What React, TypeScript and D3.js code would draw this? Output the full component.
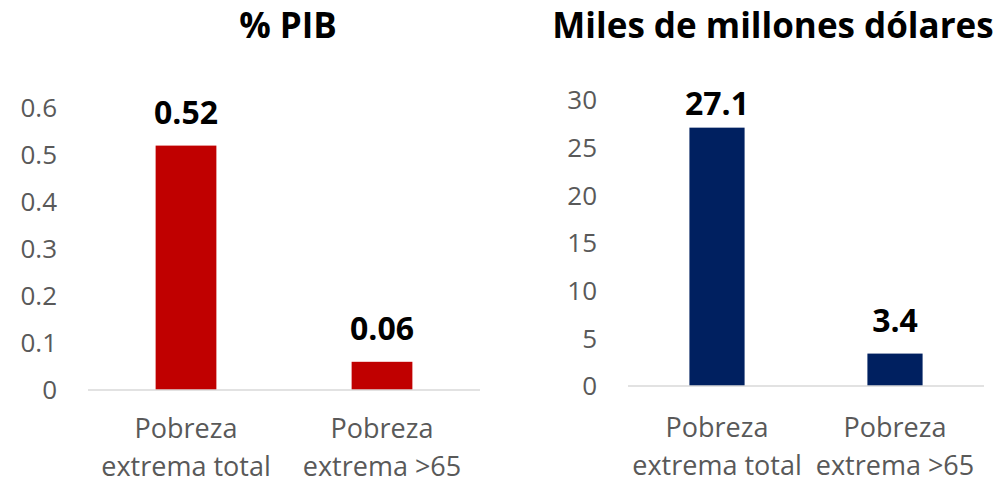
import React from "react";
import * as d3 from "d3";

// chart data
const categories = [
  ["Pobreza", "extrema total"],
  ["Pobreza", "extrema >65"],
];
const pibValues = [0.52, 0.06];
const pibLabels = ["0.52", "0.06"];
const pibTicks = [0, 0.1, 0.2, 0.3, 0.4, 0.5, 0.6];
const pibTickLabels = ["0", "0.1", "0.2", "0.3", "0.4", "0.5", "0.6"];

const usdValues = [27.1, 3.4];
const usdLabels = ["27.1", "3.4"];
const usdTicks = [0, 5, 10, 15, 20, 25, 30];
const usdTickLabels = ["0", "5", "10", "15", "20", "25", "30"];

const FONT = "'Open Sans', Lato, sans-serif";
const GRAY = "#595959";

type PanelProps = {
  title: string;
  values: number[];
  labels: string[];
  ticks: number[];
  tickLabels: string[];
  color: string;
  x0: number;
  x1: number;
  yBase: number;
  yTop: number;
  tickX: number;
  titleX: number;
  catY: number;
  labelMinY: number;
};

function Panel(p: PanelProps) {
  const xScale = d3
    .scaleBand<number>()
    .domain(categories.map((_, i) => i))
    .range([p.x0, p.x1])
    .padding(0);
  const yScale = d3
    .scaleLinear()
    .domain([0, d3.max(p.ticks) as number])
    .range([p.yBase, p.yTop]);
  const barW = xScale.bandwidth() * 0.31;

  return (
    <g>
      <text
        x={p.titleX}
        y={38}
        textAnchor="middle"
        fontFamily={FONT}
        fontWeight="bold"
        fontSize={35}
        fill="#000"
      >
        {p.title}
      </text>

      {p.ticks.map((t, i) => (
        <text
          key={t}
          x={p.tickX}
          y={yScale(t)}
          dy={9.3}
          textAnchor="end"
          fontFamily={FONT}
          fontSize={26}
          fill={GRAY}
        >
          {p.tickLabels[i]}
        </text>
      ))}

      {p.values.map((v, i) => {
        const cx = (xScale(i) as number) + xScale.bandwidth() / 2;
        const top = yScale(v);
        return (
          <g key={i}>
            <rect
              x={cx - barW / 2}
              y={top}
              width={barW}
              height={p.yBase - top}
              fill={p.color}
            />
            <text
              x={cx}
              y={Math.max(top - 22, p.labelMinY)}
              textAnchor="middle"
              fontFamily={FONT}
              fontWeight="bold"
              fontSize={32}
              fill="#000"
            >
              {p.labels[i]}
            </text>
            {categories[i].map((line, j) => (
              <text
                key={j}
                x={cx}
                y={p.catY + j * 38}
                textAnchor="middle"
                fontFamily={FONT}
                fontSize={27}
                fill={GRAY}
              >
                {line}
              </text>
            ))}
          </g>
        );
      })}

      <line
        x1={p.x0}
        x2={p.x1}
        y1={p.yBase}
        y2={p.yBase}
        stroke="#D9D9D9"
        strokeWidth={1.5}
      />
    </g>
  );
}

export default function App() {
  return (
    <svg
      width={1001}
      height={484}
      style={{ position: "absolute", left: 0, top: 0, background: "#fff" }}
    >
      <rect width={1001} height={484} fill="#fff" />
      <Panel
        title="% PIB"
        values={pibValues}
        labels={pibLabels}
        ticks={pibTicks}
        tickLabels={pibTickLabels}
        color="#C00000"
        x0={88}
        x1={480}
        yBase={390}
        yTop={108}
        tickX={57}
        titleX={288}
        catY={438}
        labelMinY={0}
      />
      <Panel
        title="Miles de millones dólares"
        values={usdValues}
        labels={usdLabels}
        ticks={usdTicks}
        tickLabels={usdTickLabels}
        color="#002060"
        x0={628}
        x1={984}
        yBase={386}
        yTop={100}
        tickX={597}
        titleX={773}
        catY={437}
        labelMinY={115}
      />
    </svg>
  );
}
